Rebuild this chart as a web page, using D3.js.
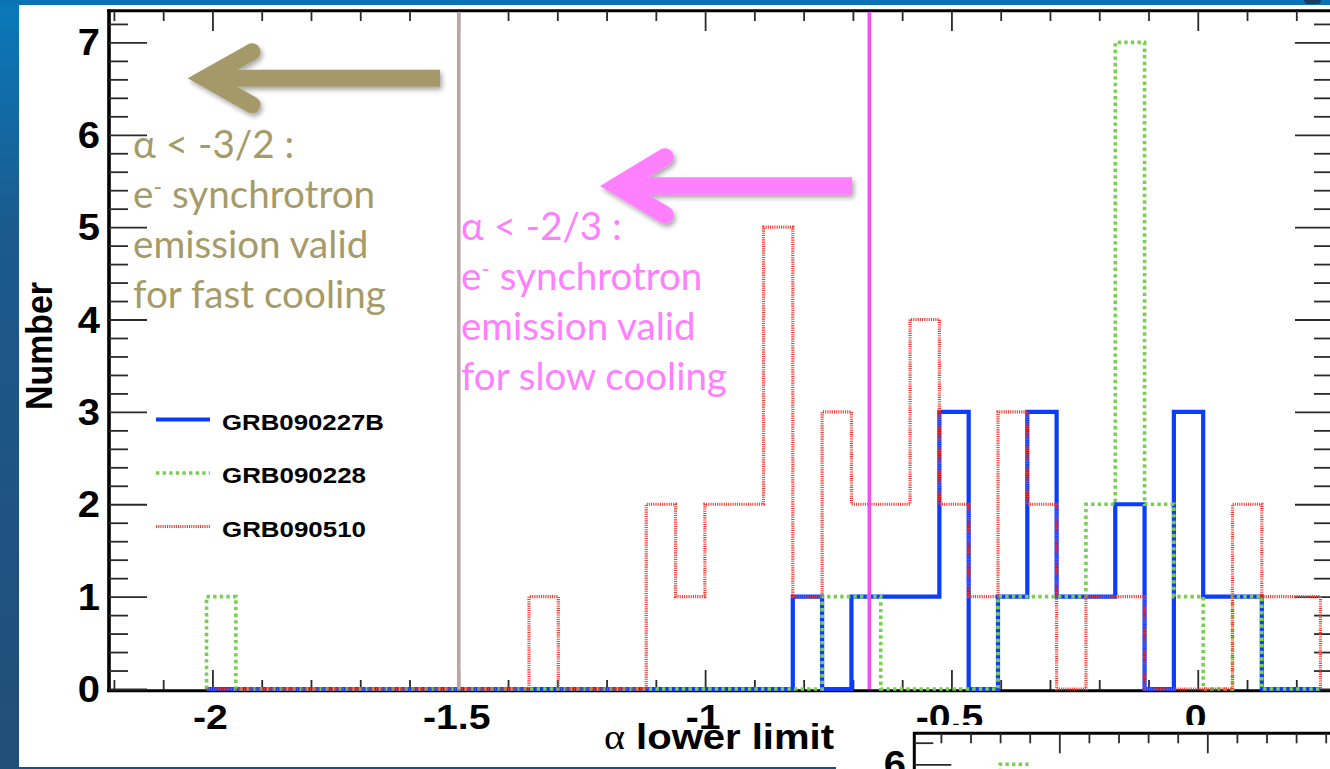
<!DOCTYPE html>
<html>
<head>
<meta charset="utf-8">
<script src="https://cdn.jsdelivr.net/npm/d3@7/dist/d3.min.js"></script>
<style>
  html, body { margin: 0; padding: 0; background: #ffffff; overflow: hidden; }
  svg { display: block; }
</style>
</head>
<body>
<svg id="chart" width="1330" height="769"></svg>
<script>
// ---- Histogram binning (alpha lower limit) ----
const binStart = -2.012;
const binWidth = 0.0595;

// ---- Counts per bin, one array per burst ----
const grb090227B = [0,0,0,0,0,0,0,0,0,0, 0,0,0,0,0,0,0,0,0,0, 1,0,1,1,1,3,0,1,3,1, 1,2,0,3,1,1,0,0];
const grb090228  = [1,0,0,0,0,0,0,0,0,0, 0,0,0,0,0,0,0,0,0,0, 0,1,1,0,0,0,0,1,1,1, 2,7,2,1,0,1,0,0];
const grb090510  = [0,0,0,0,0,0,0,0,0,0, 0,1,0,0,0,2,1,2,2,5, 1,3,2,2,4,2,1,3,2,0, 1,1,0,0,0,2,1,1];

const seriesNames  = ["GRB090227B", "GRB090228", "GRB090510"];
const seriesColors = ["#0b3cff", "#78d050", "#ee3b33"];

// ---- Axis ticks ----
const xMajorTicks = [-2, -1.5, -1, -0.5, 0];
const xTickLabels = ["-2", "-1.5", "-1", "-0.5", "0"];
const xMinorTicks = [-2.2,-2.1,-1.9,-1.8,-1.7,-1.6,-1.4,-1.3,-1.2,-1.1,-0.9,-0.8,-0.7,-0.6,-0.4,-0.3,-0.2,-0.1,0.1,0.2];
const yMajorTicks = [0, 1, 2, 3, 4, 5, 6, 7];
const yTickLabels = ["0", "1", "2", "3", "4", "5", "6", "7"];
const yMinorTicks = [0.2,0.4,0.6,0.8,1.2,1.4,1.6,1.8,2.2,2.4,2.6,2.8,3.2,3.4,3.6,3.8,4.2,4.4,4.6,4.8,5.2,5.4,5.6,5.8,6.2,6.4,6.6,6.8,7.2];

// ---- Spectral index limits (fast / slow cooling synchrotron) ----
const limitValues = [-1.5, -2/3];
const limitColors = ["#b8a7a2", "#f050f0"];
const fastLines = ["α < -3/2 :", "e|synchrotron", "emission valid", "for fast cooling"];
const slowLines = ["α < -2/3 :", "e|synchrotron", "emission valid", "for slow cooling"];

// ---- Partially visible second panel below ----
const insetBinStart = -0.7;
const insetBinWidth = 0.1;
const insetGreen = [6];
const insetMajorTicks = [-0.5, 0];
const insetMinorTicks = [-0.9,-0.8,-0.7,-0.6,-0.4,-0.3,-0.2,-0.1,0.1,0.2,0.3,0.4];
const insetYMajor = [6];
const insetYMinor = [6.2];

const svg = d3.select("#chart");
const W = 1330, H = 769;

// ---- Slide background ----
const defs = svg.append("defs");
const grad = defs.append("linearGradient").attr("id", "sideGrad")
  .attr("x1", 0).attr("y1", 0).attr("x2", 0).attr("y2", 1);
grad.append("stop").attr("offset", "0%").attr("stop-color", "#0a79bb");
grad.append("stop").attr("offset", "30%").attr("stop-color", "#1b5a8c");
grad.append("stop").attr("offset", "100%").attr("stop-color", "#224d79");
const shadow = defs.append("filter").attr("id", "shadow")
  .attr("x", "-20%").attr("y", "-40%").attr("width", "140%").attr("height", "180%");
shadow.append("feDropShadow").attr("dx", 2).attr("dy", 3).attr("stdDeviation", 2.5)
  .attr("flood-color", "#000").attr("flood-opacity", 0.35);

svg.append("rect").attr("width", W).attr("height", H).attr("fill", "#ffffff");
svg.append("rect").attr("x", 0).attr("y", 0).attr("width", 19).attr("height", H).attr("fill", "url(#sideGrad)");
svg.append("rect").attr("x", 0).attr("y", 0).attr("width", W).attr("height", 5).attr("fill", "#0a72b5");
svg.append("rect").attr("x", 0).attr("y", 767).attr("width", 836).attr("height", 2).attr("fill", "#1f4e79");
svg.append("rect").attr("x", 1304).attr("y", -4).attr("width", 17).attr("height", 8).attr("rx", 4).attr("fill", "#1b3d5f");

// ---- Scales ----
const x = d3.scaleLinear().domain([-2.212, 0.2745]).range([108, 1333]);
const y = d3.scaleLinear().domain([0, 7.34]).range([689, 11]);

const plot = svg.append("g");

// ---- Frame ----
const frame = plot.append("g").attr("stroke", "#000").attr("fill", "none");
frame.append("line").attr("x1", 109).attr("x2", 109).attr("y1", 9.5).attr("y2", 692).attr("stroke-width", 3.6);
frame.append("line").attr("x1", 107).attr("x2", 1335).attr("y1", 10.8).attr("y2", 10.8).attr("stroke-width", 3);
frame.append("line").attr("x1", 107).attr("x2", 1335).attr("y1", 690.8).attr("y2", 690.8).attr("stroke-width", 3);
frame.append("line").attr("x1", 1333).attr("x2", 1333).attr("y1", 9.5).attr("y2", 692).attr("stroke-width", 3.6);

// ---- Ticks, drawn with d3 axes (labels handled separately) ----
function tickAxis(axisFn, scale, values, size, tx, ty) {
  const g = plot.append("g").attr("transform", `translate(${tx},${ty})`)
    .call(axisFn(scale).tickValues(values).tickSize(size).tickFormat(""));
  g.select(".domain").remove();
  g.selectAll(".tick line").attr("stroke", "#2a2a2a").attr("stroke-width", 1.8);
  return g;
}
// left axis ticks point right into the frame
tickAxis(d3.axisRight, y, yMajorTicks, 38, 109, 0);
tickAxis(d3.axisRight, y, yMinorTicks, 19, 109, 0);
// right axis ticks point left
tickAxis(d3.axisLeft, y, yMajorTicks, 38, 1333, 0);
tickAxis(d3.axisLeft, y, yMinorTicks, 19, 1333, 0);
// bottom axis ticks point up
tickAxis(d3.axisTop, x, xMajorTicks, 20, 0, 690);
tickAxis(d3.axisTop, x, xMinorTicks, 10, 0, 690);
// top axis ticks point down
tickAxis(d3.axisBottom, x, xMajorTicks, 20, 0, 11);
tickAxis(d3.axisBottom, x, xMinorTicks, 10, 0, 11);

// ---- Tick labels ----
const labelFont = "'Liberation Sans', Arial, Helvetica, sans-serif";
plot.append("g").selectAll("text").data(yMajorTicks).join("text")
  .attr("transform", d => `translate(100,${y(d) + 13}) scale(1.08,1)`)
  .attr("text-anchor", "end")
  .attr("font-family", labelFont).attr("font-weight", "bold").attr("font-size", 37)
  .attr("fill", "#000")
  .text((d, i) => yTickLabels[i]);

plot.append("g").selectAll("text").data(xMajorTicks).join("text")
  .attr("transform", d => `translate(${x(d) - 2},729) scale(1.12,1)`)
  .attr("text-anchor", "middle")
  .attr("font-family", labelFont).attr("font-weight", "bold").attr("font-size", 35)
  .attr("fill", "#000")
  .text((d, i) => xTickLabels[i]);

// ---- Axis titles ----
const xTitle = svg.append("text").attr("x", 604).attr("y", 749)
  .attr("font-family", labelFont).attr("font-weight", "bold").attr("font-size", 35).attr("fill", "#000");
xTitle.append("tspan").attr("font-family", "'Liberation Serif', 'DejaVu Serif', serif").attr("font-weight", "normal").text("α");
xTitle.append("tspan").text(" lower limit");
xTitle.attr("textLength", 230).attr("lengthAdjust", "spacingAndGlyphs");

svg.append("text")
  .attr("transform", "translate(52,346) rotate(-90)")
  .attr("text-anchor", "middle")
  .attr("font-family", labelFont).attr("font-weight", "bold").attr("font-size", 36)
  .attr("textLength", 128).attr("lengthAdjust", "spacingAndGlyphs")
  .attr("fill", "#000")
  .text("Number");

// ---- Histograms ----
function histPoints(counts, start, width, xs, ys) {
  const edge = i => xs(start + i * width);
  const pts = [[edge(0), ys(0)]];
  counts.forEach((c, i) => { pts.push([edge(i), ys(c)]); pts.push([edge(i + 1), ys(c)]); });
  pts.push([edge(counts.length), ys(0)]);
  return pts;
}
const line = d3.line();
const styles = [
  { dash: null,   width: 4.2 },
  { dash: "3.4,3.2", width: 3.6 },
  { dash: "1.1,1.1", width: 3.2 }
];
[grb090227B, grb090228, grb090510].forEach((counts, k) => {
  plot.append("path")
    .attr("d", line(histPoints(counts, binStart, binWidth, x, y)))
    .attr("fill", "none")
    .attr("stroke", seriesColors[k])
    .attr("stroke-width", styles[k].width)
    .attr("stroke-dasharray", styles[k].dash)
    .attr("stroke-linejoin", "miter");
});

// ---- Limit lines ----
plot.append("g").selectAll("line").data(limitValues).join("line")
  .attr("x1", d => x(d)).attr("x2", d => x(d))
  .attr("y1", 12).attr("y2", 689)
  .attr("stroke", (d, i) => limitColors[i]).attr("stroke-width", 3.6);

// ---- Legend ----
const legend = svg.append("g");
const legendY = [419.5, 473, 526.5];
const legendW = [162, 144, 144];
seriesNames.forEach((name, k) => {
  legend.append("line")
    .attr("x1", 156).attr("x2", 210).attr("y1", legendY[k]).attr("y2", legendY[k])
    .attr("stroke", seriesColors[k]).attr("stroke-width", styles[k].width)
    .attr("stroke-dasharray", styles[k].dash);
  legend.append("text")
    .attr("x", 222).attr("y", legendY[k] + 10)
    .attr("font-family", labelFont).attr("font-weight", "bold").attr("font-size", 22)
    .attr("textLength", legendW[k]).attr("lengthAdjust", "spacingAndGlyphs")
    .attr("fill", "#000").text(name);
});

// ---- Arrows ----
function arrow(tailX, cy, vertexX, armX, armDy, color, w) {
  const g = svg.append("g").attr("filter", "url(#shadow)")
    .attr("fill", "none").attr("stroke", color).attr("stroke-width", w);
  g.append("line").attr("x1", tailX).attr("x2", vertexX + 10).attr("y1", cy).attr("y2", cy)
    .attr("stroke-linecap", "butt");
  g.append("polyline")
    .attr("points", `${armX},${cy - armDy} ${vertexX},${cy} ${armX},${cy + armDy}`)
    .attr("stroke-linejoin", "miter").attr("stroke-miterlimit", 10)
    .attr("stroke-linecap", "round");
}
arrow(440, 78.3, 205, 252, 26.5, "#a5996a", 17);
arrow(852, 186, 617, 665, 29, "#ff80ff", 17.5);

// ---- Annotation text blocks ----
function textBlock(lines, x0, y0, color, targetWidth) {
  const g = svg.append("g");
  const t = g.selectAll("text").data(lines).join("text")
    .attr("x", x0).attr("y", (d, i) => y0 + i * 50)
    .attr("font-family", "Lato, 'Open Sans', sans-serif")
    .attr("font-size", 32).attr("fill", color);
  t.each(function (d) {
    const el = d3.select(this);
    if (d.includes("|")) {
      const [a, b] = d.split("|");
      el.append("tspan").text(a);
      el.append("tspan").attr("dy", -13).attr("font-size", "0.6em").text("-");
      el.append("tspan").attr("dy", 13).text(" " + b);
    } else {
      el.text(d);
    }
  });
  const longest = t.filter((d, i) => i === lines.length - 1).node();
  const w = longest.getComputedTextLength();
  const fs = 32 * targetWidth / w;
  t.attr("font-size", fs);
}
textBlock(fastLines, 133, 158, "#a59b69", 253);
textBlock(slowLines, 461, 240, "#ff80ff", 266);

// ---- Second panel (top edge only visible) ----
const ix = d3.scaleLinear().domain([-1, 0.5]).range([911.3, 1355.3]);
const iy = d3.scaleLinear().domain([6, 6.287]).range([764.3, 733.3]);
svg.append("rect").attr("x", 836).attr("y", 725).attr("width", 494).attr("height", 44).attr("fill", "#fff");
const inset = svg.append("g");
inset.append("line").attr("x1", 913).attr("x2", 1335).attr("y1", 733.3).attr("y2", 733.3)
  .attr("stroke", "#000").attr("stroke-width", 3);
inset.append("line").attr("x1", 914.3).attr("x2", 914.3).attr("y1", 732).attr("y2", 769)
  .attr("stroke", "#000").attr("stroke-width", 3);
function insetTicks(axisFn, scale, values, size, tx, ty) {
  const g = inset.append("g").attr("transform", `translate(${tx},${ty})`)
    .call(axisFn(scale).tickValues(values).tickSize(size).tickFormat(""));
  g.select(".domain").remove();
  g.selectAll(".tick line").attr("stroke", "#2a2a2a").attr("stroke-width", 1.8);
}
insetTicks(d3.axisBottom, ix, insetMajorTicks, 20, 0, 733.3);
insetTicks(d3.axisBottom, ix, insetMinorTicks, 10, 0, 733.3);
insetTicks(d3.axisRight, iy, insetYMajor, 37, 914.3, 0);
insetTicks(d3.axisRight, iy, insetYMinor, 19, 914.3, 0);
inset.selectAll("text.ylab").data(insetYMajor).join("text").attr("class", "ylab")
  .attr("transform", d => `translate(906,${iy(d) + 13}) scale(1.08,1)`)
  .attr("text-anchor", "end")
  .attr("font-family", labelFont).attr("font-weight", "bold").attr("font-size", 37)
  .text(d => d);
inset.append("path")
  .attr("d", line(histPoints(insetGreen, insetBinStart, insetBinWidth, ix, iy).slice(0, -1)))
  .attr("fill", "none").attr("stroke", seriesColors[1]).attr("stroke-width", 3.6)
  .attr("stroke-dasharray", "3.4,3.2");
</script>
</body>
</html>
